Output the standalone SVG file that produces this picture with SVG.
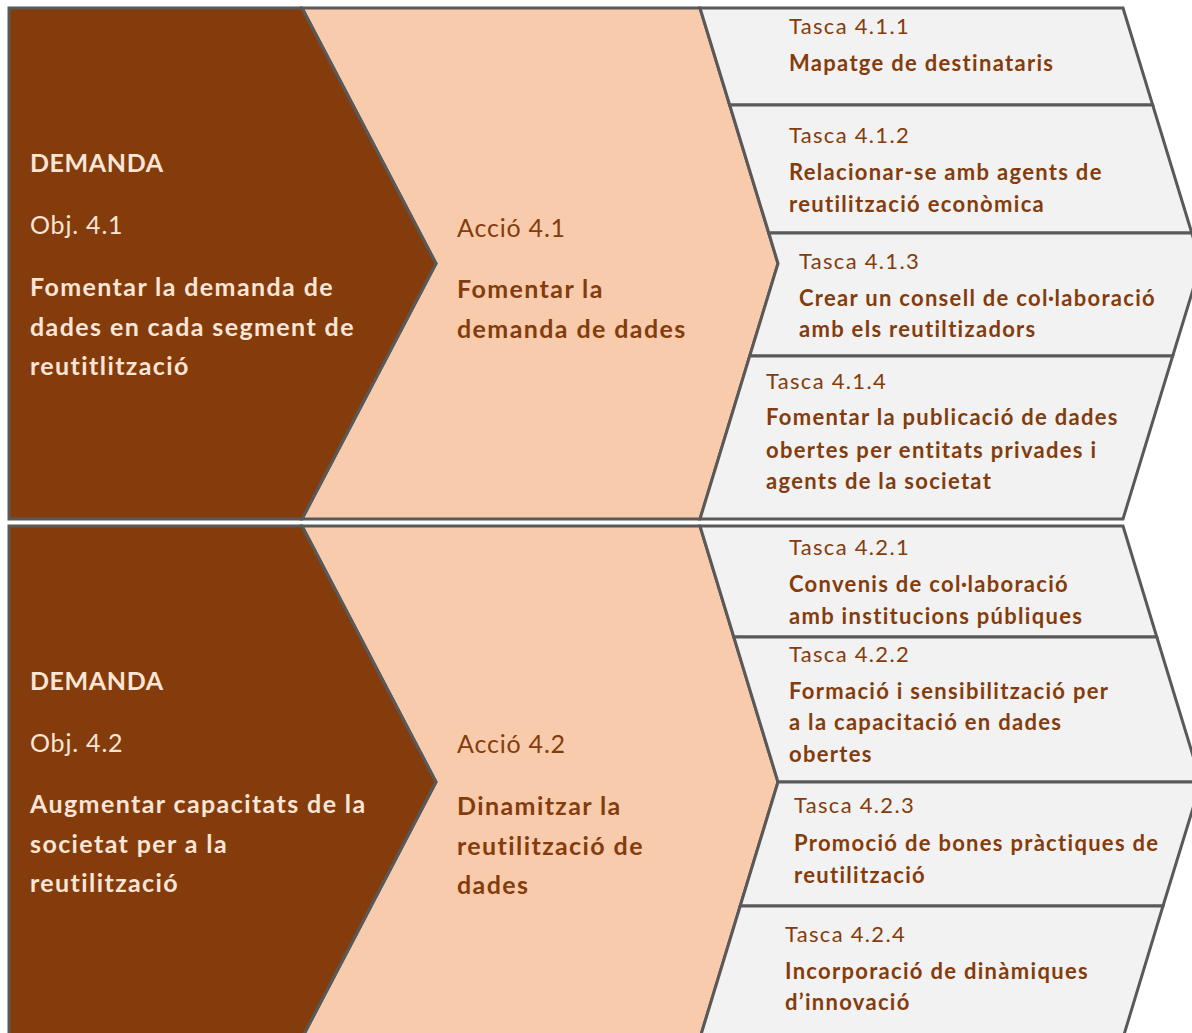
<svg xmlns="http://www.w3.org/2000/svg" width="1192" height="1033" viewBox="0 0 1192 1033">
<style>
.sh{stroke:#595959;stroke-width:3;stroke-linejoin:miter}
.obj{fill:#843C0C}
.acc{fill:#F8CBAD}
.task{fill:#F2F2F2}
text{font-family:Lato,"Open Sans","Liberation Sans",sans-serif}
.lt{fill:#FBE5D6}
.dk{fill:#843C0C}
.big{font-size:25px;letter-spacing:1.4px}
.mid{font-size:25px;letter-spacing:1.4px}
.sm{font-size:22px;letter-spacing:1.3px}
.b{font-weight:bold}
.cap{letter-spacing:0.6px}
.rg{letter-spacing:0.8px}
</style>
<rect width="1192" height="1033" fill="#ffffff"/>
<g id="connectors"/>

<!-- Panel 1 -->
<g id="accio-4-1">
<polygon class="sh acc" points="302,8 700,8 778,263.5 700,519 302,519 436,263.5"/>
<text class="dk mid rg" x="457" y="237">Acció 4.1</text>
<text class="dk mid b" x="457" y="298">Fomentar la</text>
<text class="dk mid b" x="457" y="338">demanda de dades</text>
</g>
<g id="obj-4-1">
<polygon class="sh obj" points="9,8 302,8 436,263.5 302,519 9,519"/>
<text class="lt big b cap" x="30" y="172">DEMANDA</text>
<text class="lt big rg" x="30" y="234">Obj. 4.1</text>
<text class="lt big b" x="30" y="296">Fomentar la demanda de</text>
<text class="lt big b" x="30" y="336">dades en cada segment de</text>
<text class="lt big b" x="30" y="375">reutitlització</text>
</g>
<g id="tasca-4-1-1">
<polygon class="sh task" points="700,8 1123,8 1152.7,105 729.7,105"/>
<text class="dk sm" x="789" y="34">Tasca 4.1.1</text>
<text class="dk sm b" x="789" y="71">Mapatge de destinataris</text>
</g>
<g id="tasca-4-1-2">
<polygon class="sh task" points="729.7,105 1152.7,105 1191.8,233 768.8,233"/>
<text class="dk sm" x="789" y="143">Tasca 4.1.2</text>
<text class="dk sm b" x="789" y="180">Relacionar-se amb agents de</text>
<text class="dk sm b" x="789" y="212">reutilització econòmica</text>
</g>
<g id="tasca-4-1-3">
<polygon class="sh task" points="768.8,233 1191.8,233 1201,263.5 1172.7,356 749.7,356 778,263.5"/>
<text class="dk sm" x="799" y="269">Tasca 4.1.3</text>
<text class="dk sm b" x="799" y="306">Crear un consell de col·laboració</text>
<text class="dk sm b" x="799" y="337">amb els reutiltizadors</text>
</g>
<g id="tasca-4-1-4">
<polygon class="sh task" points="749.7,356 1172.7,356 1123,519 700,519"/>
<text class="dk sm" x="766" y="389">Tasca 4.1.4</text>
<text class="dk sm b" x="766" y="425">Fomentar la publicació de dades</text>
<text class="dk sm b" x="766" y="458">obertes per entitats privades i</text>
<text class="dk sm b" x="766" y="489">agents de la societat</text>
</g>

<!-- Panel 2 -->
<g id="accio-4-2">
<polygon class="sh acc" points="302,526 700,526 778,782 700,1038 302,1038 436,782"/>
<text class="dk mid rg" x="457" y="753">Acció 4.2</text>
<text class="dk mid b" x="457" y="815">Dinamitzar la</text>
<text class="dk mid b" x="457" y="855">reutilització de</text>
<text class="dk mid b" x="457" y="894">dades</text>
</g>
<g id="obj-4-2">
<polygon class="sh obj" points="9,526 302,526 436,782 302,1038 9,1038"/>
<text class="lt big b cap" x="30" y="690">DEMANDA</text>
<text class="lt big rg" x="30" y="752">Obj. 4.2</text>
<text class="lt big b" x="30" y="813">Augmentar capacitats de la</text>
<text class="lt big b" x="30" y="853">societat per a la</text>
<text class="lt big b" x="30" y="892">reutilització</text>
</g>
<g id="tasca-4-2-1">
<polygon class="sh task" points="700,526 1123,526 1156.8,637 733.8,637"/>
<text class="dk sm" x="789" y="555">Tasca 4.2.1</text>
<text class="dk sm b" x="789" y="592">Convenis de col·laboració</text>
<text class="dk sm b" x="789" y="624">amb institucions públiques</text>
</g>
<g id="tasca-4-2-2">
<polygon class="sh task" points="733.8,637 1156.8,637 1201,782 778,782"/>
<text class="dk sm" x="789" y="662">Tasca 4.2.2</text>
<text class="dk sm b" x="789" y="699">Formació i sensibilització per</text>
<text class="dk sm b" x="789" y="730">a la capacitació en dades</text>
<text class="dk sm b" x="789" y="762">obertes</text>
</g>
<g id="tasca-4-2-3">
<polygon class="sh task" points="778,782 1201,782 1163,906 740.2,906"/>
<text class="dk sm" x="794" y="813">Tasca 4.2.3</text>
<text class="dk sm b" x="794" y="851">Promoció de bones pràctiques de</text>
<text class="dk sm b" x="794" y="883">reutilització</text>
</g>
<g id="tasca-4-2-4">
<polygon class="sh task" points="740.2,906 1163,906 1123,1038 700,1038"/>
<text class="dk sm" x="785" y="942">Tasca 4.2.4</text>
<text class="dk sm b" x="785" y="979">Incorporació de dinàmiques</text>
<text class="dk sm b" x="785" y="1010">d’innovació</text>
</g>
</svg>
